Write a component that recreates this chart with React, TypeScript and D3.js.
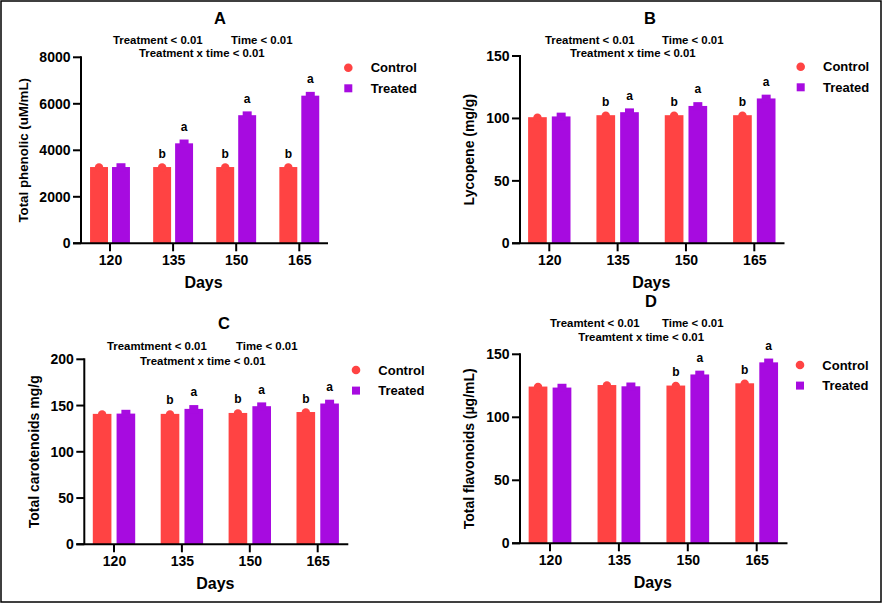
import * as d3 from 'd3';

// ── Data ──────────────────────────────────────────────────────────────────────
const DAYS = ['120', '135', '150', '165'];
const SERIES = ['Control', 'Treated'];

const PHENOLIC_CONTROL = [3280, 3280, 3280, 3280];
const PHENOLIC_TREATED = [3280, 4300, 5510, 6350];
const PHENOLIC_LETTERS = [['', ''], ['b', 'a'], ['b', 'a'], ['b', 'a']];

const LYCOPENE_CONTROL = [101, 102.6, 102.6, 102.6];
const LYCOPENE_TREATED = [101.6, 105, 110, 116];
const LYCOPENE_LETTERS = [['', ''], ['b', 'a'], ['b', 'a'], ['b', 'a']];

const CAROT_CONTROL = [141, 141, 142, 143];
const CAROT_TREATED = [141.3, 146.4, 149.3, 152.2];
const CAROT_LETTERS = [['', ''], ['b', 'a'], ['b', 'a'], ['b', 'a']];

const FLAV_CONTROL = [124.4, 125.6, 125.2, 127];
const FLAV_TREATED = [123.6, 124.6, 134, 143.6];
const FLAV_LETTERS = [['', ''], ['', ''], ['b', 'a'], ['b', 'a']];

// ── Colors / fonts ────────────────────────────────────────────────────────────
const RED = '#FF4343';
const PURPLE = '#A70BE0';
const FONT = '"Liberation Sans", Arial, Helvetica, sans-serif';

// ── Panel layout (pixel geometry, absolute) ───────────────────────────────────
interface PanelCfg {
  title: string; titleX: number; titleY: number;
  stat1a: string; stat1b: string; stat2: string;
  s1aX: number; s1bX: number; s2X: number; s1Y: number; s2Y: number;
  yLabel: string; yLabelX: number; yLabelSize: number;
  axisX: number; xEnd: number; y0: number; yTopPx: number;
  yMax: number; yStep: number;
  firstTick: number; lastTick: number;
  barW: number; gap: number;
  legendX: number; legendY: number; legendTextX: number;
  control: number[]; treated: number[]; letters: string[][];
}

const PANELS: PanelCfg[] = [
  {
    title: 'A', titleX: 220, titleY: 18,
    stat1a: 'Treatment < 0.01', stat1b: 'Time < 0.01', stat2: 'Treatment x time < 0.01',
    s1aX: 113, s1bX: 231, s2X: 139, s1Y: 40, s2Y: 53,
    yLabel: 'Total phenolic (uM/mL)', yLabelX: 23, yLabelSize: 13.3,
    axisX: 81, xEnd: 328, y0: 243.3, yTopPx: 57.3, yMax: 8000, yStep: 2000,
    firstTick: 110, lastTick: 299.3, barW: 16.3, gap: 7.3,
    legendX: 348.3, legendY: 67.7, legendTextX: 370.7,
    control: PHENOLIC_CONTROL, treated: PHENOLIC_TREATED, letters: PHENOLIC_LETTERS,
  },
  {
    title: 'B', titleX: 650, titleY: 18,
    stat1a: 'Treatment < 0.01', stat1b: 'Time < 0.01', stat2: 'Treatment x time < 0.01',
    s1aX: 545, s1bX: 662, s2X: 570, s1Y: 40, s2Y: 53,
    yLabel: 'Lycopene (mg/g)', yLabelX: 469, yLabelSize: 14,
    axisX: 520, xEnd: 784.5, y0: 243.3, yTopPx: 56, yMax: 150, yStep: 50,
    firstTick: 549.3, lastTick: 754.3, barW: 16.7, gap: 9,
    legendX: 800.7, legendY: 66.7, legendTextX: 823,
    control: LYCOPENE_CONTROL, treated: LYCOPENE_TREATED, letters: LYCOPENE_LETTERS,
  },
  {
    title: 'C', titleX: 224, titleY: 322.7,
    stat1a: 'Treamtment < 0.01', stat1b: 'Time < 0.01', stat2: 'Treatment x time < 0.01',
    s1aX: 107, s1bX: 236, s2X: 140, s1Y: 345.7, s2Y: 360.7,
    yLabel: 'Total carotenoids mg/g', yLabelX: 34, yLabelSize: 14,
    axisX: 84.3, xEnd: 348.3, y0: 544.3, yTopPx: 359.3, yMax: 200, yStep: 50,
    firstTick: 114, lastTick: 317.7, barW: 16.6, gap: 9.2,
    legendX: 356, legendY: 370, legendTextX: 378.3,
    control: CAROT_CONTROL, treated: CAROT_TREATED, letters: CAROT_LETTERS,
  },
  {
    title: 'D', titleX: 651, titleY: 301,
    stat1a: 'Treamtent < 0.01', stat1b: 'Time < 0.01', stat2: 'Treamtent x time < 0.01',
    s1aX: 550, s1bX: 662, s2X: 578.3, s1Y: 323.3, s2Y: 336.7,
    yLabel: 'Total flavonoids (µg/mL)', yLabelX: 469, yLabelSize: 14,
    axisX: 520, xEnd: 787.5, y0: 543.3, yTopPx: 354.3, yMax: 150, yStep: 50,
    firstTick: 550, lastTick: 756.7, barW: 16.7, gap: 9.3,
    legendX: 800, legendY: 365, legendTextX: 822.3,
    control: FLAV_CONTROL, treated: FLAV_TREATED, letters: FLAV_LETTERS,
  },
];

// ── Panel ─────────────────────────────────────────────────────────────────────
function Panel({ p }: { p: PanelCfg }) {
  const y = d3.scaleLinear().domain([0, p.yMax]).range([p.y0, p.yTopPx]);
  const x = d3.scalePoint<string>().domain(DAYS).range([p.firstTick, p.lastTick]);
  const sub = d3.scaleBand<string>()
    .domain(SERIES)
    .range([-(p.barW + p.gap / 2), p.barW + p.gap / 2])
    .paddingInner(p.gap / (2 * p.barW + p.gap));
  const yTicks = d3.range(0, p.yMax + p.yStep / 2, p.yStep);
  const yMid = (p.y0 + p.yTopPx) / 2;
  const xMid = (p.axisX + p.xEnd) / 2;

  return (
    <g fontFamily={FONT} fontWeight="bold" fill="#000">
      <text x={p.titleX} y={p.titleY} fontSize={16.5} textAnchor="middle" dominantBaseline="central">{p.title}</text>
      <text x={p.s1aX} y={p.s1Y} fontSize={11.4} dominantBaseline="central">{p.stat1a}</text>
      <text x={p.s1bX} y={p.s1Y} fontSize={11.4} dominantBaseline="central">{p.stat1b}</text>
      <text x={p.s2X} y={p.s2Y} fontSize={11.4} dominantBaseline="central">{p.stat2}</text>

      {/* Bars with mean marker on top */}
      {DAYS.map((d, i) => SERIES.map((s, j) => {
        const v = j === 0 ? p.control[i] : p.treated[i];
        const bx = (x(d) ?? 0) + (sub(s) ?? 0);
        const bw = sub.bandwidth();
        const top = y(v);
        const cx = bx + bw / 2;
        const color = j === 0 ? RED : PURPLE;
        const letter = p.letters[i][j];
        return (
          <g key={d + s}>
            <rect x={bx} y={top} width={bw} height={p.y0 - top} fill={color} />
            {j === 0
              ? <circle cx={cx} cy={top + 0.5} r={4.2} fill={color} />
              : <rect x={cx - 4.5} y={top - 3.8} width={9} height={8} fill={color} />}
            {letter && (
              <text x={cx} y={top - (j === 0 ? 9.5 : 12.5)} fontSize={12} textAnchor="middle">{letter}</text>
            )}
          </g>
        );
      }))}

      {/* Axes */}
      <line x1={p.axisX} x2={p.axisX} y1={p.yTopPx - 1} y2={p.y0} stroke="#000" strokeWidth={2} />
      <line x1={p.axisX - 8} x2={p.xEnd} y1={p.y0} y2={p.y0} stroke="#000" strokeWidth={2} />
      {yTicks.map(t => (
        <g key={t}>
          <line x1={p.axisX - 8} x2={p.axisX} y1={y(t)} y2={y(t)} stroke="#000" strokeWidth={2} />
          <text x={p.axisX - 10.5} y={y(t)} fontSize={14} textAnchor="end" dominantBaseline="central">{t}</text>
        </g>
      ))}
      {DAYS.map(d => (
        <g key={d}>
          <line x1={x(d)} x2={x(d)} y1={p.y0} y2={p.y0 + 8} stroke="#000" strokeWidth={2} />
          <text x={(x(d) ?? 0) + 0.5} y={p.y0 + 17} fontSize={14} textAnchor="middle" dominantBaseline="central">{d}</text>
        </g>
      ))}
      <text x={xMid - 1} y={p.y0 + 39} fontSize={16} textAnchor="middle" dominantBaseline="central">Days</text>
      <text
        transform={`translate(${p.yLabelX},${yMid}) rotate(-90)`}
        fontSize={p.yLabelSize} textAnchor="middle" dominantBaseline="central"
      >
        {p.yLabel}
      </text>

      {/* Legend */}
      <circle cx={p.legendX} cy={p.legendY} r={4.3} fill={RED} />
      <text x={p.legendTextX} y={p.legendY} fontSize={13} dominantBaseline="central">Control</text>
      <rect x={p.legendX - 4} y={p.legendY + 20.6 - 4} width={8} height={8} fill={PURPLE} />
      <text x={p.legendTextX} y={p.legendY + 20.6} fontSize={13} dominantBaseline="central">Treated</text>
    </g>
  );
}

export default function App() {
  return (
    <svg
      width={887}
      height={604}
      viewBox="0 0 887 604"
      style={{ position: 'absolute', left: 0, top: 0, background: '#fff' }}
    >
      <rect x={0} y={0} width={887} height={604} fill="#fff" />
      <rect x={1} y={1} width={880} height={601} fill="none" stroke="#000" strokeWidth={1.5} />
      {PANELS.map(p => <Panel key={p.title} p={p} />)}
    </svg>
  );
}
